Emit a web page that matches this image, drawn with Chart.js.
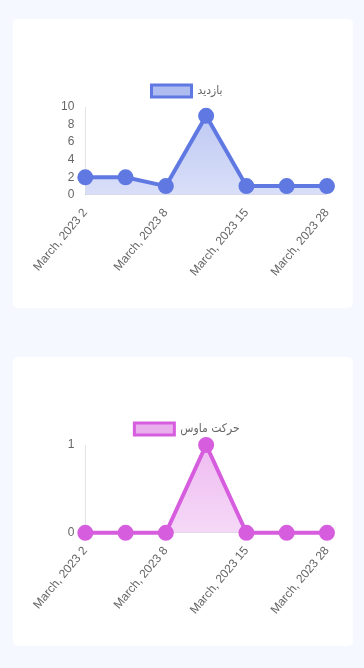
<!DOCTYPE html>
<html>
<head>
<meta charset="utf-8">
<script src="https://cdn.jsdelivr.net/npm/chart.js@4"></script>
<style>
  html, body { margin: 0; padding: 0; background: #f5f8ff; width: 364px; height: 668px; overflow: hidden; }
  .card { position: absolute; left: 13px; width: 340px; height: 289px; background: #fff; border-radius: 5px; }
  .wrap { position: absolute; left: 20px; top: 56px; width: 308px; height: 207px; }
</style>
</head>
<body>
<div class="card" style="top:19px"><div class="wrap"><canvas id="c1"></canvas></div></div>
<div class="card" style="top:357px"><div class="wrap"><canvas id="c2"></canvas></div></div>
<script>
const categories = ["March, 2023 2", "March, 2023 5", "March, 2023 8", "March, 2023 12", "March, 2023 15", "March, 2023 20", "March, 2023 28"];
const visits = [2, 2, 1, 9, 1, 1, 1];
const mouseMoves = [0, 0, 0, 1, 0, 0, 0];
const visitsLabel = "بازدید";
const mouseLabel = "حرکت ماوس";

Chart.defaults.font.family = "'Liberation Sans', Arial, 'DejaVu Sans', sans-serif";
Chart.defaults.font.size = 12;
Chart.defaults.color = "#666";

function gradFill(r, g, b) {
  return function (ctx) {
    const chart = ctx.chart;
    const area = chart.chartArea;
    if (!area) return `rgba(${r},${g},${b},0.3)`;
    const gr = chart.ctx.createLinearGradient(0, area.top, 0, area.bottom);
    gr.addColorStop(0, `rgba(${r},${g},${b},0.42)`);
    gr.addColorStop(1, `rgba(${r},${g},${b},0.24)`);
    return gr;
  };
}

function makeChart(id, label, data, rgb, yMax, step) {
  const line = `rgb(${rgb.join(',')})`;
  new Chart(document.getElementById(id), {
    type: 'line',
    data: {
      labels: categories,
      datasets: [{
        label: label,
        data: data,
        borderColor: line,
        backgroundColor: gradFill(...rgb),
        pointBackgroundColor: line,
        pointBorderColor: line,
        pointRadius: 6,
        pointHoverRadius: 6,
        borderWidth: 4,
        fill: true,
        tension: 0,
        clip: false
      }]
    },
    options: {
      responsive: true,
      maintainAspectRatio: false,
      animation: false,
      layout: { padding: 0 },
      plugins: {
        legend: {
          labels: {
            font: { family: "'DejaVu Sans Condensed', 'DejaVu Sans', sans-serif", size: 12 },
            generateLabels: function (chart) {
              const items = Chart.defaults.plugins.legend.labels.generateLabels(chart);
              items.forEach(it => { it.fillStyle = `rgba(${rgb.join(',')},0.5)`; it.strokeStyle = line; it.lineWidth = 3; });
              return items;
            }
          }
        },
        tooltip: { enabled: false }
      },
      scales: {
        x: {
          grid: { display: false },
          ticks: { minRotation: 50, maxRotation: 50, autoSkip: true, maxTicksLimit: 4 }
        },
        y: {
          min: 0, max: yMax,
          grid: { display: false },
          ticks: { stepSize: step }
        }
      }
    }
  });
}

makeChart('c1', visitsLabel, visits, [96, 121, 226], 10, 2);
makeChart('c2', mouseLabel, mouseMoves, [214, 94, 222], 1, 1);
</script>
</body>
</html>
